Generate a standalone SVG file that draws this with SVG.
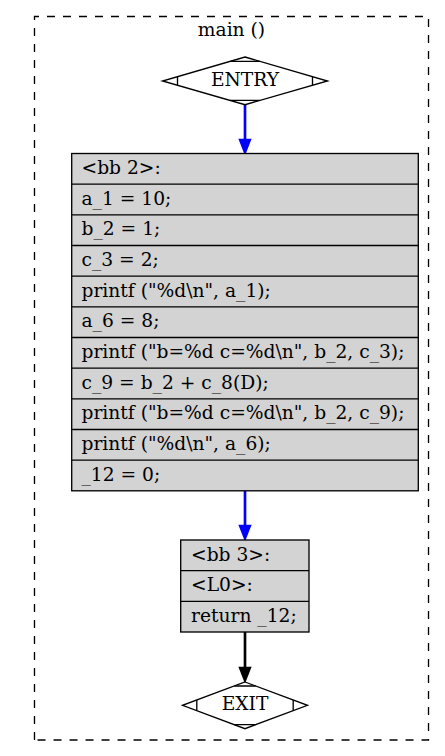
<svg xmlns="http://www.w3.org/2000/svg" width="445" height="756" viewBox="0 0 445 756">
<style>
text { font-family: "DejaVu Serif", "Liberation Serif", serif; font-size: 18.67px; fill: #000; }
.c { text-anchor: middle; }
.cluster { fill: none; stroke: #000; stroke-width: 1.33; stroke-dasharray: 8,8; }
.box { fill: #d3d3d3; stroke: #000; stroke-width: 1.33; }
.sep { stroke: #000; stroke-width: 1.33; fill: none; }
.dia { fill: #fff; stroke: #000; stroke-width: 1.33; }
.deco { stroke: #000; stroke-width: 1.33; fill: none; }
.edge { fill: none; stroke-width: 2.67; }
.blue { stroke: #0000ff; }
.black { stroke: #000; }
</style>
<defs>
<marker id="arrowBlue" markerUnits="userSpaceOnUse" viewBox="-3 -8 20 16" markerWidth="20" markerHeight="16" refX="0" refY="0" orient="auto" overflow="visible">
<path d="M0,-4.7 L12,0 L0,4.7 Z" fill="#0000ff" stroke="#0000ff" stroke-width="2.67"/>
</marker>
<marker id="arrowBlack" markerUnits="userSpaceOnUse" viewBox="-3 -8 20 16" markerWidth="20" markerHeight="16" refX="0" refY="0" orient="auto" overflow="visible">
<path d="M0,-4.7 L12,0 L0,4.7 Z" fill="#000" stroke="#000" stroke-width="2.67"/>
</marker>
</defs>
<rect width="445" height="756" fill="#fff"/>
<g id="cluster_main">
<path class="cluster" d="M34.5,740 L34.5,16.5 L428.5,16.5 L428.5,740 Z"/>
<text class="c" x="231.5" y="36">main ()</text>
</g>
<g id="edges">
<path class="edge blue" d="M245,104.7 L245,140" marker-end="url(#arrowBlue)"/>
<path class="edge blue" d="M245,490.8 L245,526" marker-end="url(#arrowBlue)"/>
<path class="edge black" d="M245,632 L245,668" marker-end="url(#arrowBlack)"/>
</g>
<g id="entry">
<polygon class="dia" points="245,57 327.5,81 245,104.7 162.5,81"/>
<path class="deco" d="M230.1,61.3 L259.9,61.3 M230.1,100.4 L259.9,100.4 M177.5,76.7 L177.5,85.3 M312.5,76.7 L312.5,85.3"/>
<text class="c" x="245" y="85.5">ENTRY</text>
</g>
<g id="bb2">
<rect class="box" x="71.7" y="153.5" width="346.6" height="337.3"/>
<path class="sep" d="M71.7,184.2 H418.3 M71.7,214.8 H418.3 M71.7,245.5 H418.3 M71.7,276.2 H418.3 M71.7,306.8 H418.3 M71.7,337.5 H418.3 M71.7,368.2 H418.3 M71.7,398.8 H418.3 M71.7,429.5 H418.3 M71.7,460.2 H418.3"/>
<text x="81.5" y="174">&lt;bb 2&gt;:</text>
<text x="81.5" y="204.7">a_1 = 10;</text>
<text x="81.5" y="235.3">b_2 = 1;</text>
<text x="81.5" y="266">c_3 = 2;</text>
<text x="81.5" y="296.7">printf ("%d\n", a_1);</text>
<text x="81.5" y="327.3">a_6 = 8;</text>
<text x="81.5" y="358">printf ("b=%d c=%d\n", b_2, c_3);</text>
<text x="81.5" y="388.7">c_9 = b_2 + c_8(D);</text>
<text x="81.5" y="419.3">printf ("b=%d c=%d\n", b_2, c_9);</text>
<text x="81.5" y="450">printf ("%d\n", a_6);</text>
<text x="81.5" y="480.7">_12 = 0;</text>
</g>
<g id="bb3">
<rect class="box" x="180.7" y="540" width="128.3" height="92"/>
<path class="sep" d="M180.7,570.7 H309 M180.7,601.3 H309"/>
<text x="191" y="560.5">&lt;bb 3&gt;:</text>
<text x="191" y="591.2">&lt;L0&gt;:</text>
<text x="191" y="621.8">return _12;</text>
</g>
<g id="exit">
<polygon class="dia" points="245,682 307.5,705.3 245,728.7 182.5,705.3"/>
<path class="deco" d="M234.3,686 L255.7,686 M234.3,724.7 L255.7,724.7 M196.8,700 L196.8,710.6 M293.2,700 L293.2,710.6"/>
<text class="c" x="245" y="709.5">EXIT</text>
</g>
</svg>
